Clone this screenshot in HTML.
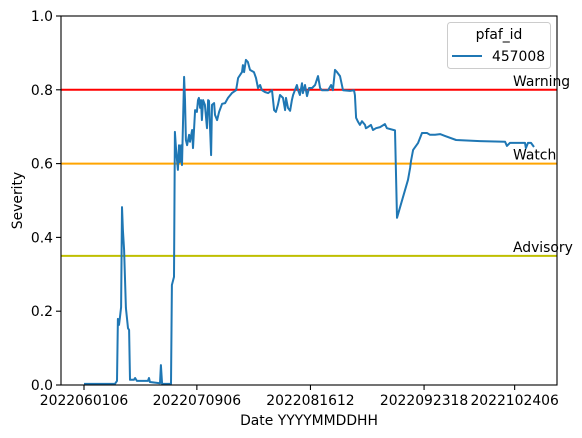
<!DOCTYPE html>
<html><head><meta charset="utf-8">
<style>
body{margin:0;background:#fff;}
svg{display:block;font-family:"DejaVu Sans","Liberation Sans",sans-serif;}
</style></head>
<body>
<svg id="chart" width="582" height="438" viewBox="0 0 582 438" xmlns="http://www.w3.org/2000/svg">
<g id="thresholds"></g>
<g id="series"></g>
<g id="axes"></g>
</svg>
<script>
const dayValues = [
0,10.4,11.1,11.4,11.8,12.1,12.5,12.8,13.1,13.5,
14.1,14.8,15.2,15.5,16.8,17.2,17.8,21.5,21.9,22.2,
25.6,25.9,26.3,29.3,29.6,30.3,30.6,31.0,31.6,32.0,
32.3,32.7,33.0,33.7,34.0,34.3,34.7,35.4,35.7,36.4,
36.7,37.4,38.0,38.4,38.7,39.1,39.4,39.7,40.1,40.7,
41.4,41.8,42.1,42.8,43.1,43.8,44.1,44.8,45.5,46.5,
47.5,48.5,49.8,51.2,51.9,53.2,53.5,53.9,54.5,55.2,
55.9,57.2,57.9,58.6,59.3,59.9,60.9,62.0,63.3,64.0,
64.6,65.3,66.0,67.0,67.7,68.0,68.7,69.4,70.0,70.4,
71.7,72.1,72.7,73.4,73.7,74.4,75.1,75.8,76.8,77.8,
78.8,79.5,80.1,81.1,82.2,83.2,83.8,84.5,85.2,86.2,
87.2,89.6,90.9,91.2,91.6,92.3,92.9,93.6,94.6,94.9,
95.6,96.6,97.3,98.3,99.7,100.3,101.3,102.0,104.7,105.4,
109.1,109.8,110.1,110.8,112.5,113.8,115.5,116.5,118.2,119.9,
121.5,125.3,133.3,141.8,142.4,143.4,148.5,148.8,149.5,150.5,151.5];
const severityValues = [
.003,.003,.011,.179,.163,.182,.211,.482,.42,.366,
.209,.154,.149,.014,.014,.019,.011,.011,.019,.008,
.005,.054,.003,.003,.271,.293,.686,.637,.583,.65,
.604,.65,.596,.835,.772,.664,.65,.678,.659,.691,
.642,.745,.74,.772,.778,.751,.772,.718,.772,.759,
.696,.772,.77,.623,.759,.764,.732,.718,.74,.762,
.764,.778,.791,.799,.832,.848,.867,.848,.881,.875,
.854,.848,.832,.805,.813,.799,.794,.791,.799,.745,
.74,.759,.786,.778,.745,.778,.751,.743,.772,.786,
.813,.799,.786,.818,.791,.813,.783,.805,.805,.813,
.837,.805,.799,.799,.799,.813,.799,.854,.848,.837,
.799,.797,.799,.786,.724,.713,.705,.715,.705,.696,
.699,.705,.691,.696,.699,.702,.707,.696,.69,.453,
.556,.588,.607,.637,.656,.683,.683,.678,.678,.68,
.675,.664,.661,.659,.648,.656,.656,.642,.656,.656,.645];
const xTickDays = [0,38,76.25,114.5,145];
const xTickLabels = ["2022060106","2022070906","2022081612","2022092318","2022102406"];
const yTicks = [0,0.2,0.4,0.6,0.8,1.0];
const yTickLabels = ["0.0","0.2","0.4","0.6","0.8","1.0"];
const thresholdNames = ["Warning","Watch","Advisory"];
const thresholdValues = [0.8,0.6,0.35];
const thresholdColors = ["#ff0000","#ffa500","#bfbf00"];

const L=61,R=557,T=16,B=385;
const FS=13.9;
const xs = d => 84 + d*2.97;
const ys = v => B - v*(B-T);
const NS="http://www.w3.org/2000/svg";
function mk(tag, attrs, parent){const e=document.createElementNS(NS,tag);for(const k in attrs)e.setAttribute(k,attrs[k]);parent.appendChild(e);return e;}
const thr=document.getElementById('thresholds'), ser=document.getElementById('series'), ax=document.getElementById('axes');

thresholdValues.forEach((v,i)=>{
  const ln=mk('line',{x1:L,x2:R,y1:ys(v),y2:ys(v),stroke:thresholdColors[i],'stroke-width':2},thr);
  
  
  const t=mk('text',{x:513,y:ys(v)-4,'font-size':FS,fill:'#000'},thr);
  t.textContent=thresholdNames[i];
  
  
});

const pts=dayValues.map((d,i)=>xs(d).toFixed(1)+','+ys(severityValues[i]).toFixed(1)).join(' ');
const pl=mk('polyline',{points:pts,fill:'none',stroke:'#1f77b4','stroke-width':2,'stroke-linejoin':'round'},ser);



const fr=mk('rect',{x:L,y:T,width:R-L,height:B-T,fill:'none',stroke:'#000','stroke-width':1.1},ax);



yTicks.forEach((v,i)=>{
  mk('line',{x1:L-5,x2:L,y1:ys(v),y2:ys(v),stroke:'#000','stroke-width':1.1},ax);
  const t=mk('text',{x:L-8,y:ys(v)+5,'font-size':FS,'text-anchor':'end'},ax);
  t.textContent=yTickLabels[i];
  
  
});
xTickDays.forEach((d,i)=>{
  mk('line',{x1:xs(d),x2:xs(d),y1:B,y2:B+5,stroke:'#000','stroke-width':1.1},ax);
  const t=mk('text',{x:xs(d),y:B+20,'font-size':FS,'text-anchor':'middle'},ax);
  t.textContent=xTickLabels[i];
  
  
});
const xt=mk('text',{x:(L+R)/2,y:425,'font-size':FS,'text-anchor':'middle'},ax);
xt.textContent='Date YYYYMMDDHH';


const yt=mk('text',{x:0,y:0,'font-size':FS,'text-anchor':'middle',transform:'translate(22,'+((T+B)/2)+') rotate(-90)'},ax);
yt.textContent='Severity';



const lg=mk('g',{},ax);


mk('rect',{x:447.5,y:22.5,width:103,height:46,rx:3,fill:'#fff','fill-opacity':0.8,stroke:'#ccc','stroke-width':1},lg);
const lt=mk('text',{x:499,y:39,'font-size':FS,'text-anchor':'middle'},lg);
lt.textContent='pfaf_id';


const ll=mk('line',{x1:452,x2:482,y1:56,y2:56,stroke:'#1f77b4','stroke-width':2},lg);


const le=mk('text',{x:492,y:61,'font-size':FS},lg);
le.textContent='457008';


</script>
</body></html>
